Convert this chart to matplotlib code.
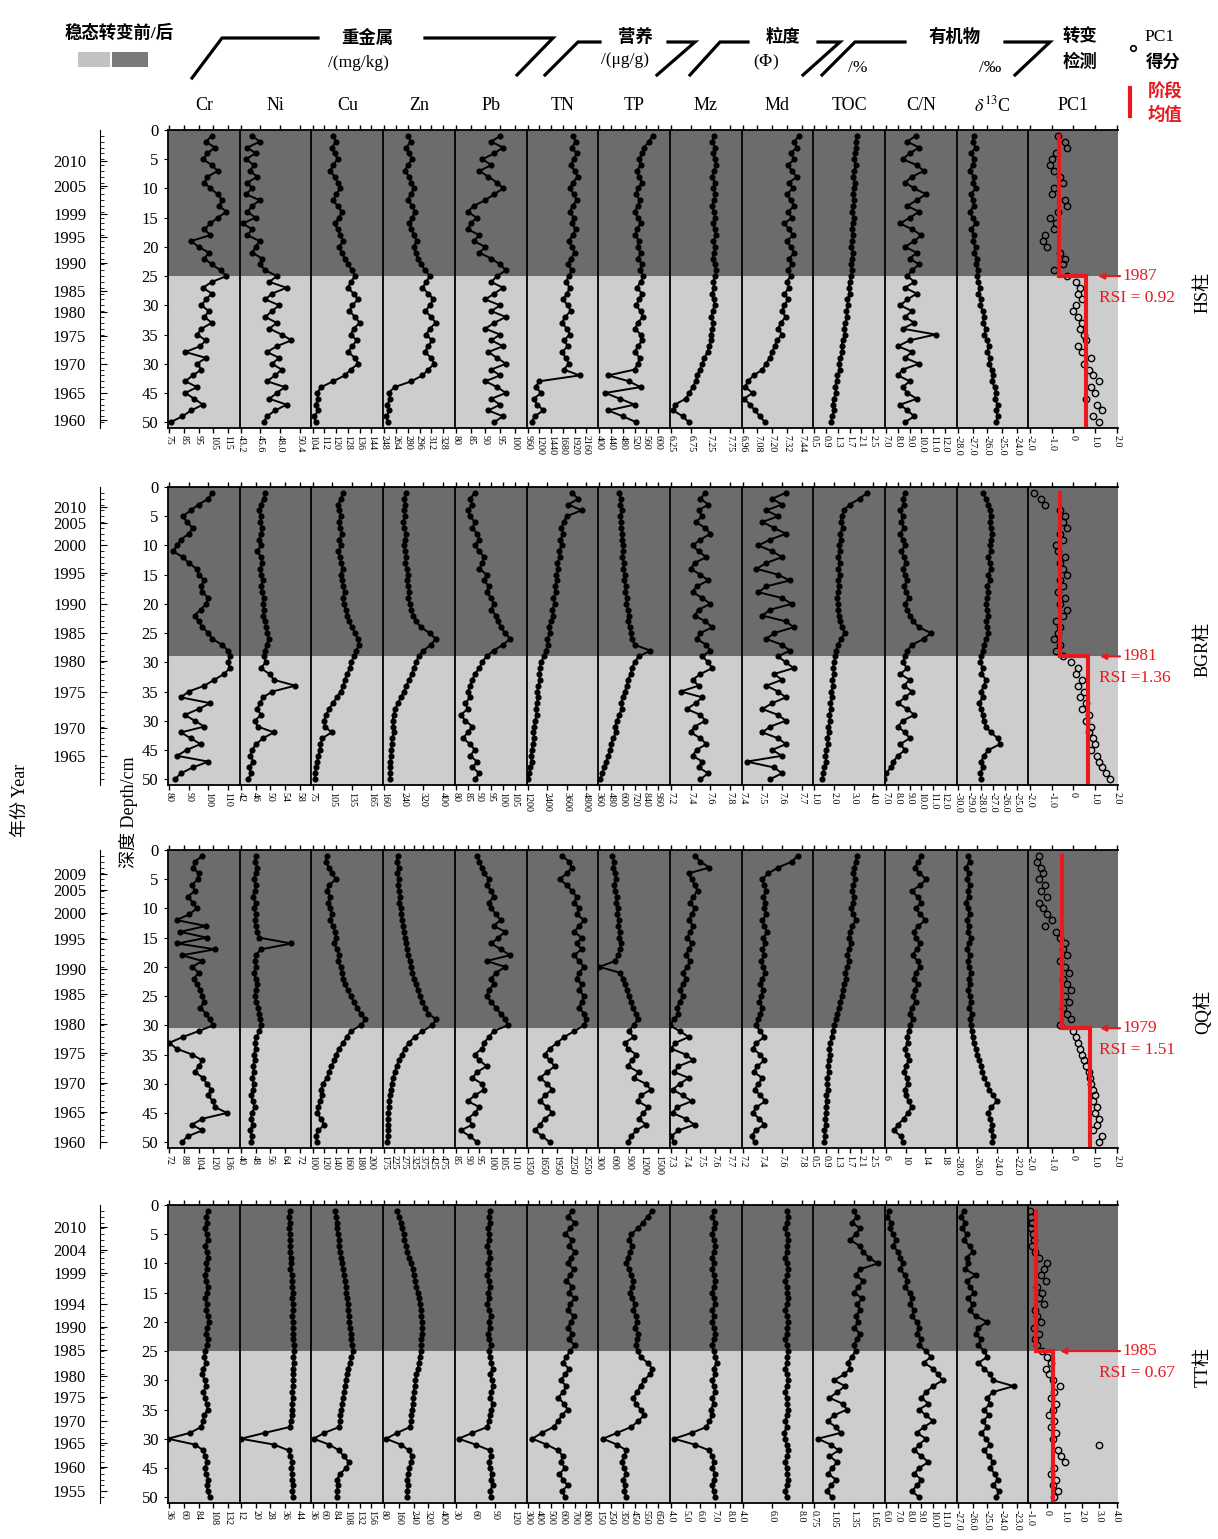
import numpy as np
import matplotlib.pyplot as plt

plt.rcParams['font.family'] = ['Liberation Serif', 'Noto Sans CJK SC']
plt.rcParams['mathtext.fontset'] = 'stix'

params = ['Cr', 'Ni', 'Cu', 'Zn', 'Pb', 'TN', 'TP', 'Mz', 'Md', 'TOC', 'C/N', r'$\delta^{13}$C', 'PC1']
depth = np.arange(1, 51)
depth_ticks = [0, 5, 10, 15, 20, 25, 30, 35, 40, 45, 50]
depth_labels = ['0', '5', '10', '15', '20', '25', '30', '35', '30', '45', '50']

# ---------------- HS core
hs_cr = [104, 100, 106, 101, 98, 104, 108, 101, 99, 103,
         108, 111, 109, 114, 108, 103, 99, 103, 90, 95,
         102, 99, 104, 110, 114, 104, 98, 104, 100, 97,
         102, 99, 104, 97, 94, 100, 96, 86, 100, 94,
         97, 91, 86, 94, 86, 92, 98, 90, 84, 76]
hs_ni = [44.6, 45.5, 44.0, 45.0, 43.8, 44.8, 44.3, 45.2, 44.0, 44.6,
         43.8, 45.5, 44.6, 44.0, 45.0, 43.4, 44.6, 44.0, 45.5, 45.0,
         44.6, 45.8, 45.5, 46.2, 47.6, 46.7, 48.8, 47.0, 46.2, 47.9,
         47.0, 46.2, 47.6, 46.7, 48.2, 49.4, 47.6, 46.4, 47.9, 47.0,
         48.2, 47.4, 46.4, 48.6, 47.6, 46.7, 48.8, 47.4, 46.4, 46.0]
hs_cu = [118, 120, 117, 119, 121, 118, 116, 119, 121, 123,
         120, 118, 121, 124, 122, 119, 121, 123, 125, 122,
         124, 126, 128, 131, 133, 130, 128, 132, 135, 131,
         129, 133, 136, 132, 130, 134, 131, 128, 133, 135,
         130, 126, 118, 110, 107, 108, 106, 108, 105, 106]
hs_zn = [280, 284, 278, 282, 286, 280, 276, 282, 285, 288,
         284, 280, 286, 290, 286, 282, 285, 289, 292, 288,
         291, 294, 298, 304, 310, 305, 300, 308, 315, 310,
         304, 312, 318, 310, 305, 313, 308, 303, 312, 316,
         308, 300, 285, 262, 254, 256, 252, 255, 251, 253]
hs_pb = [95, 92, 96, 93, 89, 92, 88, 91, 94, 96,
         93, 90, 86, 84, 87, 85, 84, 88, 86, 90,
         88, 92, 95, 97, 94, 92, 96, 93, 90, 95,
         92, 97, 93, 90, 95, 92, 96, 91, 94, 97,
         92, 95, 90, 94, 97, 92, 95, 91, 96, 93]
hs_tn = [1880, 1940, 1860, 1960, 1900, 1840, 1920, 1980, 1880, 1820,
         1900, 1960, 1880, 1820, 1900, 1860, 1940, 1880, 1800, 1860,
         1920, 1840, 1780, 1860, 1800, 1740, 1820, 1760, 1680, 1780,
         1840, 1720, 1660, 1760, 1820, 1700, 1780, 1660, 1740, 1800,
         1700, 2020, 1200, 1120, 1240, 1080, 1160, 1280, 1100, 1040]
hs_tp = [582, 568, 552, 545, 535, 540, 528, 535, 545, 530,
         525, 538, 530, 520, 532, 540, 528, 522, 535, 530,
         540, 532, 545, 538, 550, 540, 528, 545, 535, 525,
         540, 548, 530, 522, 540, 545, 532, 520, 538, 530,
         520, 430, 500, 540, 420, 470, 520, 430, 480, 525]
hs_mz = [7.35, 7.30, 7.38, 7.32, 7.36, 7.40, 7.34, 7.30, 7.36, 7.33,
         7.38, 7.35, 7.30, 7.34, 7.38, 7.32, 7.36, 7.40, 7.33, 7.37,
         7.35, 7.31, 7.36, 7.40, 7.38, 7.32, 7.35, 7.30, 7.34, 7.36,
         7.31, 7.28, 7.33, 7.30, 7.26, 7.28, 7.22, 7.18, 7.10, 7.05,
         6.98, 6.92, 6.88, 6.80, 6.72, 6.62, 6.35, 6.30, 6.55, 6.70]
hs_md = [7.42, 7.38, 7.40, 7.35, 7.38, 7.33, 7.36, 7.40, 7.34, 7.37,
         7.32, 7.35, 7.38, 7.33, 7.36, 7.30, 7.34, 7.37, 7.32, 7.35,
         7.38, 7.34, 7.36, 7.33, 7.35, 7.32, 7.34, 7.30, 7.33, 7.30,
         7.28, 7.31, 7.27, 7.25, 7.28, 7.24, 7.22, 7.20, 7.18, 7.15,
         7.12, 7.05, 7.00, 6.98, 7.04, 6.97, 7.02, 7.06, 7.10, 7.14]
hs_toc = [1.95, 1.90, 1.92, 1.88, 1.85, 1.90, 1.86, 1.82, 1.88, 1.84,
          1.80, 1.85, 1.82, 1.78, 1.83, 1.80, 1.76, 1.82, 1.78, 1.75,
          1.80, 1.77, 1.73, 1.78, 1.74, 1.70, 1.66, 1.70, 1.62, 1.65,
          1.58, 1.62, 1.55, 1.50, 1.54, 1.46, 1.42, 1.45, 1.38, 1.32,
          1.36, 1.28, 1.25, 1.20, 1.24, 1.15, 1.12, 1.18, 1.10, 1.06]
hs_cn = [9.5, 8.8, 9.8, 9.0, 8.4, 9.6, 10.2, 9.2, 8.6, 9.4,
         10.4, 9.6, 8.8, 9.8, 9.0, 8.2, 9.2, 10.0, 9.4, 8.6,
         9.6, 9.0, 9.8, 9.2, 8.8, 9.4, 8.6, 9.6, 8.8, 8.2,
         9.2, 8.6, 9.4, 8.4, 11.2, 9.0, 8.0, 9.2, 8.6, 9.8,
         8.4, 8.0, 9.0, 8.4, 8.8, 9.6, 8.2, 8.8, 9.4, 8.6]
hs_d13c = [-26.9, -27.0, -26.8, -27.1, -26.9, -27.0, -27.2, -26.9, -27.0, -26.8,
           -27.1, -27.0, -26.9, -27.2, -27.0, -26.8, -27.1, -26.9, -27.0, -26.8,
           -26.9, -26.7, -26.8, -26.6, -26.7, -26.6, -26.5, -26.6, -26.4, -26.5,
           -26.3, -26.2, -26.3, -26.1, -26.2, -26.0, -25.9, -26.0, -25.8, -25.9,
           -25.7, -25.6, -25.7, -25.5, -25.4, -25.5, -25.3, -25.4, -25.3, -25.4]
hs_pc1 = [-0.7, -0.4, -0.3, -0.8, -1.0, -1.1, -0.9, -0.6, -0.5, -0.9,
          -1.0, -0.4, -0.3, -0.7, -1.1, -0.8, -0.9, -1.3, -1.4, -1.2,
          -0.6, -0.4, -0.5, -0.9, -0.3, 0.1, 0.3, 0.2, 0.4, 0.1,
          0.0, 0.2, 0.4, 0.3, 0.5, 0.6, 0.2, 0.4, 0.8, 0.5,
          0.7, 0.9, 1.2, 0.8, 1.0, 0.6, 1.1, 1.3, 0.9, 1.2]
hs_ticks = [['75', '85', '95', '105', '115'], ['43.2', '45.6', '48.0', '50.4'],
            ['104', '112', '120', '128', '136', '144'], ['248', '264', '280', '296', '312', '328'],
            ['80', '85', '90', '95', '100'], ['960', '1200', '1440', '1680', '1920', '2160'],
            ['400', '440', '480', '520', '560', '600'], ['6.25', '6.75', '7.25', '7.75'],
            ['6.96', '7.08', '7.20', '7.32', '7.44'], ['0.5', '0.9', '1.3', '1.7', '2.1', '2.5'],
            ['7.0', '8.0', '9.0', '10.0', '11.0', '12.0'], ['-28.0', '-27.0', '-26.0', '-25.0', '-24.0'],
            ['-2.0', '-1.0', '0', '1.0', '2.0']]
hs_years = ['2010', '2005', '1999', '1995', '1990', '1985', '1980', '1975', '1970', '1965', '1960']
hs_year_depth = [5.3, 9.5, 14.3, 18.3, 22.8, 27.5, 31.1, 35.2, 40.0, 45.0, 49.6]
hs_break = 25
hs_means = [-0.65, 0.6]
hs_note = ['1987', 'RSI = 0.92']

# ---------------- BGR core
bgr_cr = [102, 100, 95, 91, 87, 89, 92, 90, 86, 84,
          82, 87, 90, 94, 95, 98, 96, 97, 100, 99,
          96, 93, 95, 97, 100, 102, 107, 110, 111, 110,
          111, 108, 103, 98, 90, 86, 101, 95, 88, 93,
          98, 86, 91, 96, 89, 84, 100, 92, 86, 83]
bgr_ni = [48.7, 48.2, 47.4, 47.0, 47.5, 47.2, 47.8, 47.4, 47.0, 47.6,
          46.4, 47.5, 47.8, 47.2, 47.6, 48.0, 47.5, 47.8, 48.2, 47.9,
          48.4, 48.0, 48.6, 48.9, 49.2, 49.6, 49.0, 48.6, 48.2, 48.8,
          47.4, 49.8, 51.0, 56.8, 50.6, 48.0, 47.2, 46.4, 47.5, 45.8,
          46.6, 51.0, 48.0, 46.2, 45.0, 44.6, 45.4, 44.2, 44.8, 44.0]
bgr_cu = [122, 118, 114, 116, 118, 115, 117, 120, 116, 119,
          114, 117, 119, 121, 118, 120, 122, 124, 121, 123,
          126, 128, 131, 135, 140, 144, 146, 142, 138, 134,
          132, 128, 124, 122, 118, 112, 106, 100, 96, 92,
          94, 104, 90, 87, 86, 84, 82, 80, 79, 78]
bgr_zn = [250, 242, 246, 240, 244, 238, 242, 248, 244, 240,
          246, 250, 246, 252, 256, 252, 258, 262, 258, 264,
          270, 278, 290, 310, 345, 370, 350, 320, 300, 290,
          280, 272, 262, 250, 240, 228, 215, 205, 198, 194,
          196, 200, 192, 190, 188, 186, 185, 184, 183, 182]
bgr_pb = [88, 86, 87, 85, 86, 88, 87, 89, 90, 88,
          90, 92, 91, 90, 93, 92, 94, 93, 95, 96,
          95, 97, 98, 99, 101, 103, 100, 96, 93, 91,
          90, 88, 87, 86, 85, 86, 84, 85, 82, 84,
          87, 85, 83, 86, 88, 86, 89, 87, 90, 88]
bgr_tn = [3900, 4300, 3700, 4500, 3600, 3400, 3250, 3380, 3200, 3280,
          3100, 3180, 3000, 3080, 2950, 3020, 2850, 2920, 2780, 2850,
          2700, 2760, 2600, 2500, 2560, 2400, 2450, 2300, 2200, 2000,
          1950, 1900, 1950, 1850, 1800, 1850, 1750, 1700, 1750, 1650,
          1600, 1550, 1600, 1500, 1450, 1400, 1450, 1350, 1300, 1250]
bgr_tp = [560, 580, 570, 590, 575, 585, 580, 595, 590, 600,
          605, 595, 610, 605, 620, 615, 630, 625, 640, 635,
          650, 660, 650, 670, 680, 690, 720, 880, 760, 720,
          690, 680, 650, 640, 620, 600, 580, 590, 560, 540,
          520, 530, 500, 480, 470, 450, 430, 410, 390, 370]
bgr_mz = [7.55, 7.50, 7.58, 7.48, 7.52, 7.45, 7.55, 7.60, 7.50, 7.42,
          7.48, 7.56, 7.44, 7.40, 7.50, 7.58, 7.46, 7.42, 7.52, 7.60,
          7.48, 7.44, 7.55, 7.62, 7.50, 7.46, 7.56, 7.60, 7.52, 7.58,
          7.62, 7.50, 7.42, 7.48, 7.30, 7.52, 7.45, 7.36, 7.50, 7.55,
          7.44, 7.40, 7.50, 7.56, 7.46, 7.42, 7.52, 7.48, 7.58, 7.50]
bgr_md = [7.62, 7.55, 7.60, 7.52, 7.58, 7.50, 7.56, 7.62, 7.54, 7.48,
          7.55, 7.60, 7.52, 7.47, 7.58, 7.64, 7.52, 7.48, 7.60, 7.65,
          7.54, 7.50, 7.62, 7.66, 7.56, 7.52, 7.60, 7.64, 7.58, 7.62,
          7.66, 7.56, 7.60, 7.52, 7.58, 7.62, 7.55, 7.50, 7.58, 7.62,
          7.54, 7.50, 7.58, 7.62, 7.55, 7.60, 7.42, 7.56, 7.60, 7.54]
bgr_toc = [3.70, 3.30, 2.80, 2.50, 2.40, 2.35, 2.45, 2.30, 2.35, 2.25,
           2.30, 2.20, 2.28, 2.22, 2.30, 2.18, 2.25, 2.20, 2.15, 2.22,
           2.18, 2.25, 2.30, 2.40, 2.55, 2.35, 2.20, 2.10, 2.05, 2.00,
           1.95, 2.00, 1.90, 1.95, 1.85, 1.90, 1.80, 1.85, 1.75, 1.80,
           1.70, 1.75, 1.65, 1.70, 1.60, 1.55, 1.60, 1.50, 1.45, 1.40]
bgr_cn = [8.6, 8.4, 8.5, 8.2, 8.4, 8.3, 8.5, 8.2, 8.4, 8.6,
          8.3, 8.5, 8.7, 8.4, 8.6, 8.8, 8.5, 8.7, 8.9, 8.6,
          8.8, 9.0, 9.3, 9.8, 10.8, 10.2, 9.2, 8.8, 8.6, 8.4,
          8.8, 8.2, 9.0, 8.5, 9.2, 8.6, 8.0, 8.8, 9.4, 8.4,
          8.0, 8.6, 9.0, 8.2, 8.6, 8.0, 7.6, 7.4, 7.0, 6.8]
bgr_d13c = [-27.9, -27.6, -27.4, -27.3, -27.2, -27.3, -27.2, -27.1, -27.2, -27.3,
            -27.2, -27.4, -27.3, -27.2, -27.4, -27.3, -27.5, -27.4, -27.5, -27.6,
            -27.5, -27.4, -27.6, -27.5, -27.4, -27.6, -27.8, -27.9, -28.0, -28.1,
            -27.9, -28.0, -27.6, -27.8, -28.0, -27.9, -28.2, -28.0, -27.9, -27.8,
            -27.6, -27.2, -26.6, -26.4, -27.4, -27.8, -28.0, -27.9, -28.1, -28.0]
bgr_pc1 = [-1.8, -1.5, -1.3, -0.6, -0.4, -0.5, -0.3, -0.6, -0.5, -0.8,
           -0.7, -0.4, -0.6, -0.5, -0.3, -0.6, -0.5, -0.7, -0.4, -0.6,
           -0.3, -0.5, -0.8, -0.6, -0.7, -0.9, -0.6, -0.8, -0.5, -0.1,
           0.2, 0.1, 0.4, 0.2, 0.5, 0.3, 0.6, 0.4, 0.7, 0.6,
           0.8, 0.7, 0.9, 1.0, 0.8, 1.1, 1.2, 1.3, 1.5, 1.7]
bgr_ticks = [['80', '90', '100', '110'], ['42', '46', '50', '54', '58'],
             ['75', '105', '135', '165'], ['160', '240', '320', '400'],
             ['80', '85', '90', '95', '100', '105'], ['1200', '2400', '3600', '4800'],
             ['360', '480', '600', '720', '840', '960'], ['7.2', '7.4', '7.6', '7.8'],
             ['7.4', '7.5', '7.6', '7.7'], ['1.0', '2.0', '3.0', '4.0'],
             ['7.0', '8.0', '9.0', '10.0', '11.0', '12.0'],
             ['-30.0', '-29.0', '-28.0', '-27.0', '-26.0', '-25.0'],
             ['-2.0', '-1.0', '0', '1.0', '2.0']]
bgr_years = ['2010', '2005', '2000', '1995', '1990', '1985', '1980', '1975', '1970', '1965']
bgr_year_depth = [3.4, 6.1, 10.0, 14.8, 20.0, 25.0, 29.8, 35.0, 41.2, 46.0]
bgr_break = 29
bgr_means = [-0.62, 0.68]
bgr_note = ['1981', 'RSI =1.36']

# ---------------- QQ core
qq_cr = [108, 100, 98, 104, 103, 97, 100, 92, 98, 102,
         94, 80, 112, 84, 113, 81, 122, 86, 108, 97,
         104, 99, 102, 106, 108, 110, 106, 112, 116, 120,
         104, 87, 72, 80, 97, 108, 104, 100, 109, 113,
         118, 114, 120, 122, 135, 108, 97, 108, 92, 86]
qq_ni = [48.5, 47.5, 49.0, 48.0, 47.0, 48.5, 47.5, 46.5, 48.0, 47.0,
         48.5, 47.5, 48.0, 49.0, 50.0, 67.5, 51.0, 48.0, 47.5, 48.5,
         47.0, 48.0, 49.0, 48.0, 47.5, 48.5, 49.5, 50.0, 50.5, 51.0,
         50.0, 48.5, 47.5, 48.0, 47.0, 47.5, 46.5, 47.0, 46.0, 47.0,
         46.5, 45.5, 46.5, 47.5, 46.0, 45.5, 46.5, 45.0, 46.0, 45.5]
qq_cu = [125, 122, 128, 133, 140, 128, 124, 130, 127, 130,
         133, 129, 135, 138, 140, 137, 142, 145, 143, 148,
         150, 152, 155, 160, 165, 170, 176, 182, 190, 182,
         165, 158, 152, 145, 140, 137, 132, 128, 124, 118,
         114, 116, 112, 110, 108, 114, 120, 110, 105, 108]
qq_zn = [245, 238, 248, 242, 250, 244, 252, 256, 250, 258,
         262, 266, 270, 275, 280, 285, 290, 296, 304, 312,
         318, 326, 335, 345, 358, 370, 385, 400, 440, 420,
         370, 330, 300, 280, 265, 250, 238, 228, 220, 212,
         208, 204, 200, 198, 196, 194, 193, 195, 192, 190]
qq_pb = [94, 95, 96, 97, 99, 98, 100, 101, 99, 100,
         102, 104, 101, 106, 103, 100, 104, 108, 98, 106,
         102, 100, 101, 99, 98, 100, 102, 104, 106, 107,
         101, 99, 97, 96, 93, 95, 98, 94, 92, 96,
         97, 93, 90, 95, 93, 90, 92, 87, 91, 94]
qq_tn = [2050, 2200, 2250, 2150, 2000, 2150, 2250, 2350, 2300, 2400,
         2350, 2500, 2400, 2300, 2450, 2350, 2450, 2300, 2400, 2500,
         2400, 2350, 2450, 2400, 2500, 2450, 2400, 2500, 2550, 2500,
         2300, 2100, 1950, 1800, 1700, 1800, 1900, 1750, 1600, 1750,
         1850, 1700, 1600, 1750, 1850, 1700, 1600, 1500, 1650, 1800]
qq_tp = [560, 600, 580, 620, 640, 600, 620, 660, 640, 680,
         660, 700, 680, 720, 700, 740, 720, 680, 620, 300,
         720, 780, 820, 860, 900, 940, 980, 1040, 1080, 1000,
         900, 1000, 820, 880, 1050, 960, 880, 1100, 1000, 1250,
         1350, 1150, 1080, 1300, 1200, 1100, 1250, 1050, 950, 880]
qq_mz = [7.46, 7.50, 7.56, 7.42, 7.44, 7.46, 7.48, 7.45, 7.43, 7.46,
         7.44, 7.42, 7.45, 7.43, 7.41, 7.44, 7.42, 7.40, 7.43, 7.41,
         7.38, 7.40, 7.38, 7.36, 7.38, 7.36, 7.34, 7.35, 7.32, 7.29,
         7.36, 7.42, 7.33, 7.30, 7.40, 7.45, 7.35, 7.32, 7.42, 7.36,
         7.31, 7.38, 7.44, 7.34, 7.31, 7.40, 7.46, 7.35, 7.30, 7.32]
qq_md = [7.76, 7.70, 7.56, 7.46, 7.40, 7.42, 7.44, 7.41, 7.43, 7.42,
         7.44, 7.40, 7.42, 7.45, 7.41, 7.43, 7.40, 7.42, 7.39, 7.41,
         7.43, 7.40, 7.38, 7.41, 7.39, 7.37, 7.40, 7.38, 7.36, 7.33,
         7.38, 7.42, 7.34, 7.30, 7.38, 7.42, 7.35, 7.31, 7.40, 7.36,
         7.32, 7.38, 7.43, 7.34, 7.30, 7.37, 7.42, 7.33, 7.29, 7.32]
qq_toc = [1.95, 1.90, 1.85, 1.80, 1.88, 1.82, 1.78, 1.84, 1.80, 1.75,
          1.82, 1.92, 1.78, 1.72, 1.68, 1.74, 1.66, 1.62, 1.68, 1.60,
          1.55, 1.58, 1.50, 1.46, 1.42, 1.38, 1.32, 1.28, 1.22, 1.18,
          1.12, 1.08, 1.04, 1.00, 1.02, 0.98, 0.95, 0.98, 0.94, 0.92,
          0.95, 0.90, 0.92, 0.88, 0.90, 0.86, 0.88, 0.84, 0.86, 0.82]
qq_cn = [13.2, 12.6, 11.8, 12.8, 14.2, 13.0, 11.2, 12.4, 13.2, 12.0,
         13.0, 14.0, 12.6, 11.6, 12.0, 13.0, 12.2, 11.4, 12.4, 13.0,
         12.0, 11.6, 12.4, 11.8, 11.4, 12.0, 11.2, 10.8, 11.4, 10.8,
         10.6, 10.2, 10.4, 9.8, 10.2, 10.6, 10.0, 9.6, 10.2, 10.4,
         9.8, 10.0, 10.6, 11.2, 10.4, 9.6, 8.4, 7.6, 9.0, 9.4]
qq_d13c = [-27.0, -26.8, -27.2, -26.9, -27.1, -26.8, -27.0, -26.9, -27.2, -27.0,
           -26.8, -27.1, -26.9, -27.0, -26.7, -26.9, -27.1, -26.8, -27.0, -26.9,
           -26.7, -26.9, -26.8, -27.0, -26.8, -26.7, -26.9, -26.6, -26.8, -26.7,
           -26.6, -26.5, -26.4, -26.2, -26.0, -25.8, -25.6, -25.5, -25.3, -25.0,
           -24.8, -24.4, -24.0, -24.6, -24.9, -24.7, -24.5, -24.6, -24.4, -24.5]
qq_pc1 = [-1.6, -1.7, -1.5, -1.4, -1.6, -1.3, -1.5, -1.2, -1.6, -1.4,
          -1.2, -1.0, -1.3, -0.8, -0.6, -0.4, -0.5, -0.3, -0.6, -0.4,
          -0.2, -0.5, -0.3, -0.1, -0.4, -0.2, -0.5, -0.3, -0.1, -0.6,
          0.0, 0.1, 0.2, 0.3, 0.4, 0.5, 0.6, 0.7, 0.75, 0.8,
          0.9, 1.0, 0.9, 1.1, 1.0, 1.2, 1.1, 0.9, 1.3, 1.2]
qq_ticks = [['72', '88', '104', '120', '136'], ['40', '48', '56', '64', '72'],
            ['100', '120', '140', '160', '180', '200'], ['175', '225', '275', '325', '375', '425', '475'],
            ['85', '90', '95', '100', '105', '110'], ['1350', '1650', '1950', '2250', '2550'],
            ['300', '600', '900', '1200', '1500'], ['7.3', '7.4', '7.5', '7.6', '7.7'],
            ['7.2', '7.4', '7.6', '7.8'], ['0.5', '0.9', '1.3', '1.7', '2.1', '2.5'],
            ['6', '10', '14', '18'], ['-28.0', '-26.0', '-24.0', '-22.0'],
            ['-2.0', '-1.0', '0', '1.0', '2.0']]
qq_years = ['2009', '2005', '2000', '1995', '1990', '1985', '1980', '1975', '1970', '1965', '1960']
qq_year_depth = [4.1, 6.9, 10.8, 15.3, 20.3, 24.6, 29.8, 34.8, 39.8, 44.8, 50.0]
qq_break = 30.5
qq_means = [-0.53, 0.76]
qq_note = ['1979', 'RSI = 1.51']

# ---------------- TT core
tt_cr = [100, 96, 98, 94, 97, 99, 95, 97, 100, 96,
         98, 94, 96, 99, 97, 95, 98, 96, 99, 101,
         98, 96, 99, 97, 95, 93, 96, 92, 90, 94,
         96, 92, 95, 97, 99, 93, 91, 88, 70, 34,
         78, 92, 95, 98, 94, 96, 100, 97, 99, 102]
tt_ni = [38.5, 38.0, 38.5, 38.2, 38.8, 38.5, 39.0, 38.6, 39.2, 39.5,
         39.0, 39.6, 39.8, 40.0, 40.2, 39.8, 40.2, 40.5, 40.0, 40.4,
         40.6, 40.2, 40.6, 40.8, 41.0, 40.6, 40.8, 40.2, 40.6, 40.2,
         40.4, 39.8, 40.2, 39.6, 40.0, 39.6, 39.2, 38.5, 25.0, 12.0,
         30.0, 38.0, 39.0, 40.0, 39.5, 40.0, 39.6, 40.2, 40.0, 40.4]
tt_cu = [82, 84, 86, 85, 88, 90, 89, 92, 94, 96,
         98, 100, 102, 104, 105, 106, 108, 108, 110, 111,
         112, 114, 115, 116, 118, 115, 112, 108, 106, 104,
         102, 100, 98, 96, 95, 93, 92, 90, 60, 38,
         70, 90, 100, 110, 105, 92, 86, 88, 85, 86]
tt_zn = [150, 160, 170, 175, 185, 190, 200, 205, 215, 225,
         235, 240, 250, 255, 262, 268, 272, 278, 282, 285,
         286, 284, 282, 280, 278, 272, 268, 262, 255, 250,
         245, 240, 238, 235, 230, 228, 225, 220, 150, 90,
         170, 215, 230, 225, 215, 210, 205, 208, 204, 206]
tt_pb = [82, 80, 82, 79, 81, 80, 78, 80, 82, 79,
         81, 78, 80, 82, 79, 80, 78, 81, 83, 80,
         82, 79, 81, 83, 80, 82, 84, 86, 82, 85,
         87, 84, 82, 86, 84, 82, 80, 78, 55, 34,
         60, 82, 84, 80, 82, 85, 83, 86, 82, 84]
tt_tn = [680, 640, 700, 660, 620, 680, 650, 700, 670, 640,
         690, 660, 630, 680, 650, 700, 660, 640, 690, 670,
         640, 680, 650, 700, 660, 630, 600, 650, 620, 580,
         630, 600, 560, 610, 640, 590, 560, 520, 420, 340,
         460, 560, 600, 580, 620, 570, 600, 640, 590, 620]
tt_tp = [600, 560, 520, 480, 420, 400, 430, 410, 390, 380,
         400, 420, 440, 430, 410, 430, 450, 440, 460, 470,
         450, 480, 470, 460, 480, 500, 560, 600, 580, 530,
         500, 470, 440, 460, 500, 530, 480, 420, 300, 180,
         300, 380, 360, 340, 360, 380, 350, 370, 360, 380]
tt_mz = [6.9, 6.8, 7.0, 6.9, 6.8, 6.9, 7.0, 6.9, 6.8, 6.9,
         6.8, 6.9, 7.0, 6.9, 6.8, 6.9, 7.0, 6.8, 6.9, 6.8,
         6.9, 7.0, 6.9, 6.8, 6.9, 7.0, 7.1, 6.9, 7.0, 6.8,
         6.9, 7.0, 6.8, 6.9, 6.7, 6.8, 6.6, 6.4, 5.4, 4.2,
         5.6, 6.6, 6.8, 6.9, 6.8, 7.0, 6.9, 6.8, 6.9, 7.0]
tt_md = [7.0, 7.1, 7.0, 6.9, 7.0, 7.1, 7.0, 7.0, 6.9, 7.0,
         7.1, 7.0, 6.9, 7.0, 7.0, 7.1, 7.0, 6.9, 7.0, 7.1,
         7.0, 7.0, 6.9, 7.0, 7.1, 7.0, 7.0, 6.9, 7.0, 7.1,
         7.0, 6.9, 7.0, 7.0, 7.1, 7.0, 6.9, 7.0, 6.8, 6.9,
         7.0, 7.1, 7.0, 6.9, 7.0, 7.0, 7.1, 7.0, 6.9, 7.0]
tt_toc = [1.35, 1.40, 1.32, 1.45, 1.38, 1.30, 1.44, 1.50, 1.58, 1.72,
          1.45, 1.38, 1.50, 1.42, 1.36, 1.48, 1.40, 1.45, 1.38, 1.42,
          1.36, 1.44, 1.40, 1.35, 1.38, 1.32, 1.26, 1.30, 1.20, 1.05,
          1.22, 1.10, 0.98, 1.18, 1.25, 1.05, 0.95, 1.08, 1.15, 0.80,
          1.00, 1.12, 0.98, 1.10, 1.02, 0.96, 1.08, 1.00, 0.94, 1.02]
tt_cn = [6.2, 6.1, 6.4, 6.3, 6.6, 6.8, 6.6, 7.0, 7.2, 7.4,
         7.2, 7.6, 7.8, 7.6, 8.0, 8.2, 8.0, 8.4, 8.2, 8.6,
         8.8, 8.6, 9.0, 8.8, 9.4, 9.8, 9.2, 10.0, 10.4, 10.8,
         10.0, 9.4, 9.0, 9.6, 8.8, 9.4, 10.0, 9.2, 8.6, 9.4,
         8.8, 8.4, 9.0, 9.6, 8.8, 8.4, 9.0, 8.6, 8.2, 8.8]
tt_d13c = [-26.6, -26.8, -26.5, -26.7, -26.4, -26.6, -26.2, -26.0, -26.4, -26.3,
           -26.5, -25.8, -26.4, -26.2, -25.9, -26.3, -26.0, -26.2, -25.8, -25.0,
           -25.6, -25.8, -25.4, -25.6, -25.2, -25.0, -25.6, -25.2, -24.8, -24.6,
           -23.2, -24.6, -25.0, -24.8, -25.2, -24.9, -25.3, -25.0, -25.4, -25.1,
           -24.8, -25.2, -24.9, -24.6, -24.8, -24.5, -24.3, -24.6, -24.2, -24.4]
tt_pc1 = [-1.0, -0.95, -0.9, -0.95, -0.85, -0.8, -0.9, -0.7, -0.5, 0.0,
          -0.2, -0.4, -0.1, -0.6, -0.3, -0.5, -0.2, -0.7, -0.6, -0.4,
          -0.8, -0.5, -0.7, -0.6, -0.3, 0.0, 0.2, -0.1, 0.1, 0.3,
          0.7, 0.4, 0.2, 0.5, 0.3, 0.1, 0.4, 0.2, 0.5, 0.3,
          3.0, 0.6, 0.8, 1.0, 0.4, 0.2, 0.5, 0.3, 0.6, 0.4]
tt_ticks = [['36', '60', '84', '108', '132'], ['12', '20', '28', '36', '44'],
            ['36', '60', '84', '108', '132', '156'], ['80', '160', '240', '320', '400'],
            ['30', '60', '90', '120'], ['300', '400', '500', '600', '700', '800'],
            ['150', '250', '350', '450', '550', '650'], ['4.0', '5.0', '6.0', '7.0', '8.0'],
            ['4.0', '6.0', '8.0'], ['0.75', '1.05', '1.35', '1.65'],
            ['6.0', '7.0', '8.0', '9.0', '10.0', '11.0'],
            ['-27.0', '-26.0', '-25.0', '-24.0', '-23.0'],
            ['-1.0', '0', '1.0', '2.0', '3.0', '4.0']]
tt_years = ['2010', '2004', '1999', '1994', '1990', '1985', '1980', '1975', '1970', '1965', '1960', '1955']
tt_year_depth = [3.8, 7.7, 11.7, 16.9, 20.9, 24.8, 29.3, 32.9, 36.9, 40.8, 44.9, 48.9]
tt_break = 25
tt_means = [-0.65, 0.32]
tt_note = ['1985', 'RSI = 0.67']

cores = [
    ('HS柱', [hs_cr, hs_ni, hs_cu, hs_zn, hs_pb, hs_tn, hs_tp, hs_mz, hs_md, hs_toc, hs_cn, hs_d13c, hs_pc1],
     hs_ticks, hs_years, hs_year_depth, hs_break, hs_means, hs_note),
    ('BGR柱', [bgr_cr, bgr_ni, bgr_cu, bgr_zn, bgr_pb, bgr_tn, bgr_tp, bgr_mz, bgr_md, bgr_toc, bgr_cn, bgr_d13c, bgr_pc1],
     bgr_ticks, bgr_years, bgr_year_depth, bgr_break, bgr_means, bgr_note),
    ('QQ柱', [qq_cr, qq_ni, qq_cu, qq_zn, qq_pb, qq_tn, qq_tp, qq_mz, qq_md, qq_toc, qq_cn, qq_d13c, qq_pc1],
     qq_ticks, qq_years, qq_year_depth, qq_break, qq_means, qq_note),
    ('TT柱', [tt_cr, tt_ni, tt_cu, tt_zn, tt_pb, tt_tn, tt_tp, tt_mz, tt_md, tt_toc, tt_cn, tt_d13c, tt_pc1],
     tt_ticks, tt_years, tt_year_depth, tt_break, tt_means, tt_note),
]

# ---------------- layout (pixels)
W, H = 1218, 1539
dark = '#6c6c6c'
light = '#cdcdcd'
red = '#e8191f'
col_x = [168 + 71.7 * i for i in range(13)]
col_w = [71.7] * 12 + [90]
row_top = [130, 487, 850, 1205]
row_h = 298
arrow_head = [1098, 1100, 1100, 1060]

fig = plt.figure(figsize=(W / 100, H / 100), dpi=100)


def box(x, y, w, h):
    return [x / W, 1 - (y + h) / H, w / W, h / H]


for r, (name, series, ticks, years, ydep, brk, means, note) in enumerate(cores):
    top = row_top[r]
    for c in range(13):
        ax = fig.add_axes(box(col_x[c], top, col_w[c], row_h))
        ax.axhspan(0, brk, color=dark, lw=0, zorder=0)
        ax.axhspan(brk, 51, color=light, lw=0, zorder=0)
        tv = [float(t) for t in ticks[c]]
        span = tv[-1] - tv[0]
        if c < 12:
            ax.plot(series[c], depth, '-o', color='black', lw=1.4, ms=3.4, zorder=3)
            ax.set_xlim(tv[0] - 0.02 * span, tv[-1] + 0.2 * span)
        else:
            ax.plot(series[c], depth, 'o', mfc='none', mec='black', ms=4.6, mew=1.0, zorder=3)
            ax.plot([means[0], means[0], means[1], means[1]], [1, brk, brk, 50.5],
                    color=red, lw=3, zorder=4, solid_joinstyle='miter')
            ax.set_xlim(tv[0] - 0.02 * span, tv[-1] + 0.02 * span)
        ax.set_ylim(51, 0)
        ax.set_xticks(tv)
        ax.set_xticklabels(ticks[c], rotation=270, fontsize=7.2)
        ax.tick_params(axis='x', top=True, bottom=True, direction='out', length=3.5,
                       width=1, pad=1.5)
        ax.spines['right'].set_visible(False)
        for s in ['top', 'bottom', 'left']:
            ax.spines[s].set_linewidth(1.3)
        if c == 0:
            ax.set_yticks(depth_ticks)
            ax.set_yticklabels(depth_labels, fontsize=12)
            ax.tick_params(axis='y', direction='out', length=3, pad=4)
        else:
            ax.set_yticks([])

    # year axis
    yax = fig.add_axes(box(100, top, 0.5, row_h))
    yax.set_ylim(51, 0)
    for s in ['top', 'right', 'bottom']:
        yax.spines[s].set_visible(False)
    yax.set_xticks([])
    yax.set_yticks(ydep)
    yax.set_yticklabels(years, fontsize=12)
    yax.set_yticks(depth, minor=True)
    yax.tick_params(axis='y', which='major', direction='in', length=5, pad=10)
    yax.tick_params(axis='y', which='minor', direction='in', length=3)

# ---------------- overlay for header and notes
ov = fig.add_axes([0, 0, 1, 1])
ov.set_xlim(0, W)
ov.set_ylim(H, 0)
ov.axis('off')

ov.text(119, 33, '稳态转变前/后', ha='center', va='center', fontsize=12.5, fontweight='bold')
ov.add_patch(plt.Rectangle((78, 52), 32, 15, color='#c2c2c2', lw=0))
ov.add_patch(plt.Rectangle((112, 52), 36, 15, color='#7a7a7a', lw=0))

brackets = [[(192, 78), (222, 38), (318, 38)],
            [(425, 38), (553, 38), (517, 75)],
            [(545, 75), (578, 42), (600, 42)],
            [(668, 42), (695, 42), (657, 75)],
            [(690, 75), (720, 42), (748, 42)],
            [(818, 42), (840, 42), (803, 75)],
            [(822, 75), (855, 42), (905, 42)],
            [(1005, 42), (1050, 42), (1015, 75)]]
for seg in brackets:
    ov.plot([p[0] for p in seg], [p[1] for p in seg], color='black', lw=2.3,
            solid_joinstyle='miter')

head_txt = [(367, 38, '重金属', 'black', 'bold'), (358, 63, '/(mg/kg)', 'black', 'normal'),
            (635, 37, '营养', 'black', 'bold'), (625, 60, '/(μg/g)', 'black', 'normal'),
            (783, 37, '粒度', 'black', 'bold'), (766, 62, r'($\mathit{\Phi}$)', 'black', 'normal'),
            (858, 68, '/%', 'black', 'normal'), (955, 37, '有机物', 'black', 'bold'),
            (990, 68, '/‰', 'black', 'normal'),
            (1080, 37, '转变', 'black', 'bold'), (1080, 62, '检测', 'black', 'bold'),
            (1160, 37, 'PC1', 'black', 'normal'), (1163, 62, '得分', 'black', 'bold'),
            (1165, 92, '阶段', red, 'bold'), (1165, 115, '均值', red, 'bold')]
for x, y, t, col, wt in head_txt:
    ov.text(x, y, t, ha='center', va='center', fontsize=12.5, color=col, fontweight=wt)
ov.plot([1133], [48], 'o', mfc='none', mec='black', ms=4, mew=1.2)
ov.plot([1130, 1130], [88, 116], color=red, lw=3)

for c in range(13):
    ov.text(col_x[c] + col_w[c] / 2, 105, params[c], ha='center', va='center', fontsize=13)

ov.text(20, 800, '年份 Year', rotation=90, ha='center', va='center', fontsize=13)
ov.text(128, 812, '深度 Depth/cm', rotation=90, ha='center', va='center', fontsize=13)

for r, (name, series, ticks, years, ydep, brk, means, note) in enumerate(cores):
    top = row_top[r]
    ya = top + brk / 51 * row_h
    ov.annotate('', xy=(arrow_head[r], ya), xytext=(1120, ya),
                arrowprops=dict(arrowstyle='-|>', color=red, lw=1.5, mutation_scale=9,
                                shrinkA=0, shrinkB=0))
    ov.text(1122, ya, note[0], color=red, ha='left', va='center', fontsize=12.5)
    ov.text(1099, ya + 22, note[1], color=red, ha='left', va='center', fontsize=12.5)
    ov.text(1203, top + 162, name, rotation=90, ha='center', va='center', fontsize=13)

fig.savefig('out.png', dpi=100)
